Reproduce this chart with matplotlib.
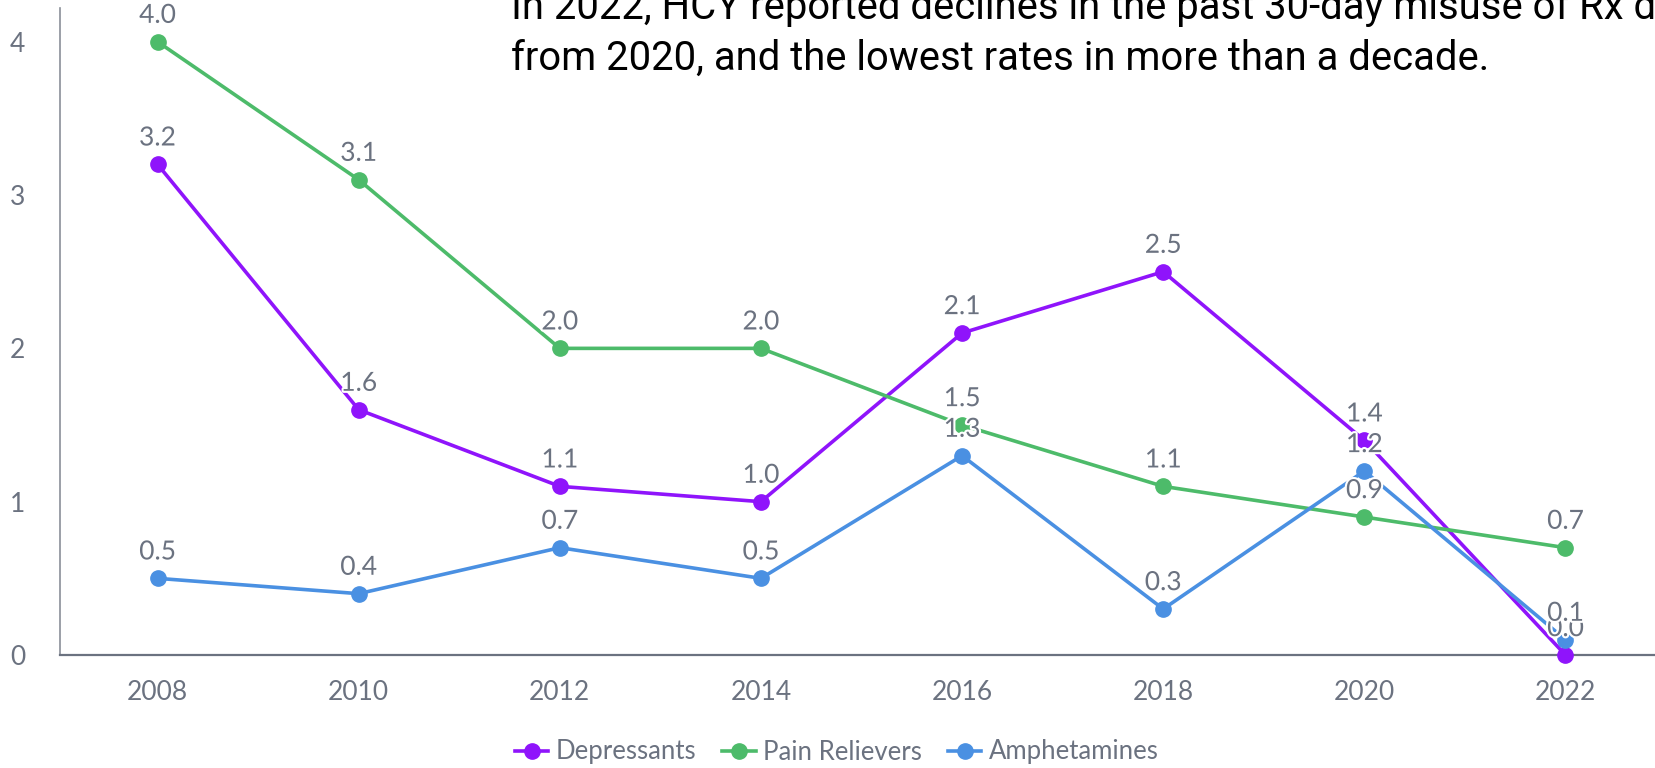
import numpy as np
import matplotlib
matplotlib.use("Agg")
import matplotlib.pyplot as plt
import matplotlib.patheffects as pe

years = [2008, 2010, 2012, 2014, 2016, 2018, 2020, 2022]
depressants = [3.2, 1.6, 1.1, 1.0, 2.1, 2.5, 1.4, 0.0]
pain_relievers = [4.0, 3.1, 2.0, 2.0, 1.5, 1.1, 0.9, 0.7]
amphetamines = [0.5, 0.4, 0.7, 0.5, 1.3, 0.3, 1.2, 0.1]

series = [
    ("Depressants", depressants, "#8f14fb"),
    ("Pain Relievers", pain_relievers, "#4dbb6a"),
    ("Amphetamines", amphetamines, "#4a90e2"),
]
y_ticks = [0, 1, 2, 3, 4]

gray = "#6b7280"

fig = plt.figure(figsize=(16.56, 7.68), dpi=100)
ax = fig.add_axes([60 / 1656, 1 - 655 / 768, 1 - 60 / 1656, 647 / 768])

for name, vals, col in series:
    ax.plot(years, vals, color=col, lw=2.6, marker="o", ms=11,
            label=name, zorder=3, clip_on=False)
    for x, v in zip(years, vals):
        ax.annotate(f"{v:.1f}", (x, v), xytext=(0, 10), textcoords="offset points",
                    ha="center", va="bottom", fontsize=19, color=gray,
                    family="Lato", zorder=4,
                    path_effects=[pe.withStroke(linewidth=3, foreground="white")])

ax.set_xlim(2007.03, 2022.9)
ax.set_ylim(0, 4.22)
ax.set_xticks(years)
ax.set_xticklabels([str(y) for y in years])
ax.set_yticks(y_ticks)
ax.set_yticklabels([str(t) for t in y_ticks])
for lab in ax.get_xticklabels() + ax.get_yticklabels():
    lab.set_family("Lato")
    lab.set_fontsize(19)
    lab.set_color(gray)
ax.tick_params(axis="x", length=0, pad=18)
ax.tick_params(axis="y", length=0, pad=25)

for s in ["top", "right"]:
    ax.spines[s].set_visible(False)
ax.spines["left"].set_color("#8a8f98")
ax.spines["left"].set_linewidth(1.2)
ax.spines["bottom"].set_color("#6b7280")
ax.spines["bottom"].set_linewidth(1.6)

fig.text(511 / 1656, 1 - 19 / 768,
         "In 2022, HCY reported declines in the past 30-day misuse of Rx drugs compared",
         family="Roboto", fontsize=28.8, color="black", va="baseline", ha="left")
fig.text(511 / 1656, 1 - 70 / 768,
         "from 2020, and the lowest rates in more than a decade.",
         family="Roboto", fontsize=28.8, color="black", va="baseline", ha="left")

leg = fig.legend(loc="center", bbox_to_anchor=(837 / 1656, 1 - 752 / 768), ncol=3,
                 frameon=False, handlelength=1.3, handletextpad=0.3,
                 columnspacing=1.0, prop={"family": "Lato", "size": 18.5})
for t in leg.get_texts():
    t.set_color(gray)

fig.savefig("out.png", dpi=100)
